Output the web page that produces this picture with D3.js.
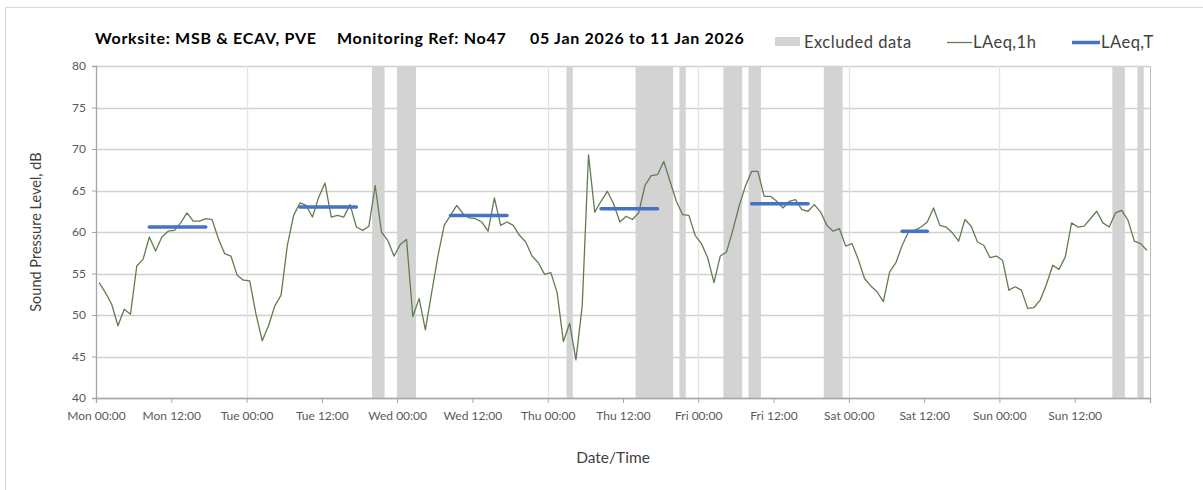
<!DOCTYPE html>
<html>
<head>
<meta charset="utf-8">
<script src="https://cdn.jsdelivr.net/npm/d3@7"></script>
<style>
  body { margin: 0; background: #fff; }
  text { font-family: Lato, 'Open Sans', sans-serif; }
</style>
</head>
<body>
<div class="chart"></div>
<script>
var margin = {top: 66, right: 53, bottom: 92, left: 96};
var fullWidth = 1203, fullHeight = 490;
var width = fullWidth - margin.left - margin.right;
var height = fullHeight - margin.top - margin.bottom;

// hourly LAeq,1h, Mon 05 Jan 00:00 -> Sun 11 Jan 23:00
let laeq1h = [
  // Mon
  53.9, 52.7, 51.3, 48.7, 50.7, 50.1, 55.9, 56.7, 59.4, 57.7, 59.4, 60.1,
  60.2, 61.1, 62.3, 61.3, 61.3, 61.6, 61.5, 59.2, 57.4, 57.1, 54.8, 54.2,
  // Tue
  54.1, 50.1, 46.9, 48.7, 51.1, 52.4, 58.4, 62.0, 63.5, 63.2, 61.8, 64.2,
  65.9, 61.8, 62.0, 61.8, 63.3, 60.6, 60.2, 60.7, 65.6, 60.0, 59.0, 57.1,
  // Wed
  58.5, 59.1, 49.8, 52.0, 48.2, 52.7, 57.1, 60.8, 62.0, 63.2, 62.2, 61.7,
  61.6, 61.2, 60.1, 64.1, 60.8, 61.2, 60.8, 59.6, 58.8, 57.1, 56.3, 54.9,
  // Thu
  55.1, 52.7, 46.8, 49.0, 44.6, 51.1, 69.3, 62.4, 63.7, 64.9, 63.4, 61.2,
  61.9, 61.5, 62.3, 65.6, 66.8, 66.9, 68.5, 66.1, 63.7, 62.1, 62.0, 59.6,
  // Fri
  58.6, 56.9, 53.9, 57.1, 57.6, 60.2, 63.1, 65.5, 67.3, 67.3, 64.3, 64.3,
  63.7, 62.9, 63.7, 63.9, 62.7, 62.5, 63.3, 62.4, 60.8, 60.1, 60.4, 58.3,
  // Sat
  58.6, 56.7, 54.4, 53.5, 52.8, 51.6, 55.2, 56.3, 58.4, 60.0, 60.2, 60.6,
  61.2, 62.9, 60.8, 60.6, 59.9, 58.9, 61.5, 60.7, 58.8, 58.4, 56.9, 57.1,
  // Sun
  56.6, 53.0, 53.4, 53.0, 50.8, 50.9, 51.8, 53.7, 56.0, 55.5, 57.0, 61.1,
  60.6, 60.7, 61.6, 62.5, 61.1, 60.6, 62.3, 62.6, 61.4, 58.9, 58.6, 57.8
];

// LAeq,T periods (hour index from Mon 00:00)
let laeqTFrom = [8, 32, 56, 80, 104, 128];
let laeqTTo = [17, 41, 65, 89, 113, 132];
let laeqTValues = [60.6, 63.0, 62.0, 62.8, 63.4, 60.1];

// excluded data, hour index from Mon 00:00
let excludedFrom = [44, 48, 75, 86, 93, 100, 104, 116, 162, 166];
let excludedTo = [46, 51, 76, 92, 94, 103, 106, 119, 164, 167];

let yTicks = [40, 45, 50, 55, 60, 65, 70, 75, 80];
let titleParts = ['Worksite: MSB & ECAV, PVE', 'Monitoring Ref: No47', '05 Jan 2026 to 11 Jan 2026'];

let startDate = new Date(2026, 0, 5, 0, 0);
let endDate = new Date(2026, 0, 12, 0, 0);
let hourToDate = h => d3.timeMinute.offset(startDate, Math.round(h * 60));

let root = d3.select('.chart')
  .append('svg')
  .attr('width', fullWidth)
  .attr('height', fullHeight)
;

// chart border (only top/left show in the frame)
root.append('rect')
  .attr('x', 5.5)
  .attr('y', 7.5)
  .attr('width', fullWidth)
  .attr('height', fullHeight)
  .style('fill', 'none')
  .style('stroke', '#d9d9d9');

let svg = root.append('g')
  .attr('transform', `translate(${margin.left}, ${margin.top})`)
;

//scales
let xScale = d3.scaleTime()
  .domain([startDate, endDate])
  .range([0, width])
;
let yScale = d3.scaleLinear()
  .domain([40, 80])
  .range([height, 0])
;

// horizontal grid
svg.append('g')
  .selectAll('line')
  .data(yTicks)
  .enter()
  .append('line')
  .attr('x1', 0)
  .attr('x2', width)
  .attr('y1', d => Math.round(yScale(d)) + 0.5)
  .attr('y2', d => Math.round(yScale(d)) + 0.5)
  .style('stroke', '#d0d0d0')
  .style('stroke-width', 1.3);

// vertical day grid
svg.append('g')
  .selectAll('line')
  .data(d3.timeDay.range(d3.timeDay.offset(startDate, 1), endDate))
  .enter()
  .append('line')
  .attr('x1', d => Math.round(xScale(d)) + 0.5)
  .attr('x2', d => Math.round(xScale(d)) + 0.5)
  .attr('y1', 0)
  .attr('y2', height)
  .style('stroke', '#e3e3e3')
  .style('stroke-width', 1.3);

// excluded bands
svg.append('g')
  .selectAll('rect')
  .data(excludedFrom.map((f, i) => ({from: f, to: excludedTo[i]})))
  .enter()
  .append('rect')
  .attr('x', d => xScale(hourToDate(d.from)))
  .attr('width', d => xScale(hourToDate(d.to)) - xScale(hourToDate(d.from)))
  .attr('y', 0)
  .attr('height', height)
  .style('fill', '#d3d3d3');

// right border
svg.append('line')
  .attr('x1', width + 0.5)
  .attr('x2', width + 0.5)
  .attr('y1', 0)
  .attr('y2', height)
  .style('stroke', '#bfbfbf');

// axes
let yAxis = d3.axisLeft(yScale)
  .tickValues(yTicks)
  .tickSize(4)
  .tickPadding(6);
let yG = svg.append('g').call(yAxis);

let xAxis = d3.axisBottom(xScale)
  .ticks(d3.timeHour.every(12))
  .tickFormat(d3.timeFormat('%a %H:%M'))
  .tickSize(5)
  .tickPadding(8);
let xG = svg.append('g')
  .attr('transform', `translate(0, ${height})`)
  .call(xAxis);

[xG, yG].forEach(g => {
  g.select('.domain').style('stroke', '#a6a6a6').style('stroke-width', 1.3);
  g.selectAll('.tick line').style('stroke', '#a6a6a6');
  g.selectAll('.tick text')
    .style('font-family', 'Lato, sans-serif')
    .style('font-size', '12px')
    .style('fill', '#595959');
});
// drop the closing tick label (Mon 00:00 of next week)
xG.selectAll('.tick text').filter(d => +d === +endDate).remove();

// LAeq,1h line
let line = d3.line()
  .x((d, i) => xScale(hourToDate(i + 0.5)))
  .y(d => yScale(d));

svg.append('path')
  .datum(laeq1h)
  .attr('d', line)
  .style('fill', 'none')
  .style('stroke', '#617d4f')
  .style('stroke-width', 1.3)
  .style('stroke-linejoin', 'round');

// LAeq,T segments
svg.append('g')
  .selectAll('line')
  .data(laeqTValues.map((v, i) => ({from: laeqTFrom[i], to: laeqTTo[i], value: v})))
  .enter()
  .append('line')
  .attr('x1', d => xScale(hourToDate(d.from + 0.5)))
  .attr('x2', d => xScale(hourToDate(d.to + 0.5)))
  .attr('y1', d => yScale(d.value))
  .attr('y2', d => yScale(d.value))
  .style('stroke', '#4472c4')
  .style('stroke-width', 3.5)
  .style('stroke-linecap', 'round');

// title
let titleX = [95, 337, 530];
root.append('g')
  .selectAll('text')
  .data(titleParts)
  .enter()
  .append('text')
  .attr('x', (d, i) => titleX[i])
  .attr('y', 44)
  .style('font-size', '16px')
  .style('letter-spacing', '0.7px')
  .style('font-weight', 'bold')
  .style('fill', '#000')
  .text(d => d);

// legend
let legend = root.append('g').attr('transform', 'translate(775, 42)');
legend.append('rect')
  .attr('x', 0).attr('y', -5).attr('width', 25).attr('height', 9)
  .style('fill', '#d3d3d3');
legend.append('text').attr('x', 29).attr('y', 6).text('Excluded data');
legend.append('line')
  .attr('x1', 172).attr('x2', 197).attr('y1', 0.5).attr('y2', 0.5)
  .style('stroke', '#617d4f').style('stroke-width', 1.3);
legend.append('text').attr('x', 198).attr('y', 6).text('LAeq,1h');
legend.append('line')
  .attr('x1', 297).attr('x2', 325).attr('y1', 0.5).attr('y2', 0.5)
  .style('stroke', '#4472c4').style('stroke-width', 3.5);
legend.append('text').attr('x', 326).attr('y', 6).text('LAeq,T');
legend.selectAll('text')
  .style('font-size', '16.5px')
  .style('letter-spacing', '0.5px')
  .style('fill', '#404040');

// axis titles
root.append('text')
  .attr('transform', `translate(41, ${margin.top + height / 2}) rotate(-90)`)
  .style('text-anchor', 'middle')
  .style('font-size', '14.5px')
  .style('fill', '#404040')
  .text('Sound Pressure Level, dB');

root.append('text')
  .attr('x', 613)
  .attr('y', 463)
  .style('text-anchor', 'middle')
  .style('font-size', '15.5px')
  .style('fill', '#404040')
  .text('Date/Time');
</script>
</body>
</html>
